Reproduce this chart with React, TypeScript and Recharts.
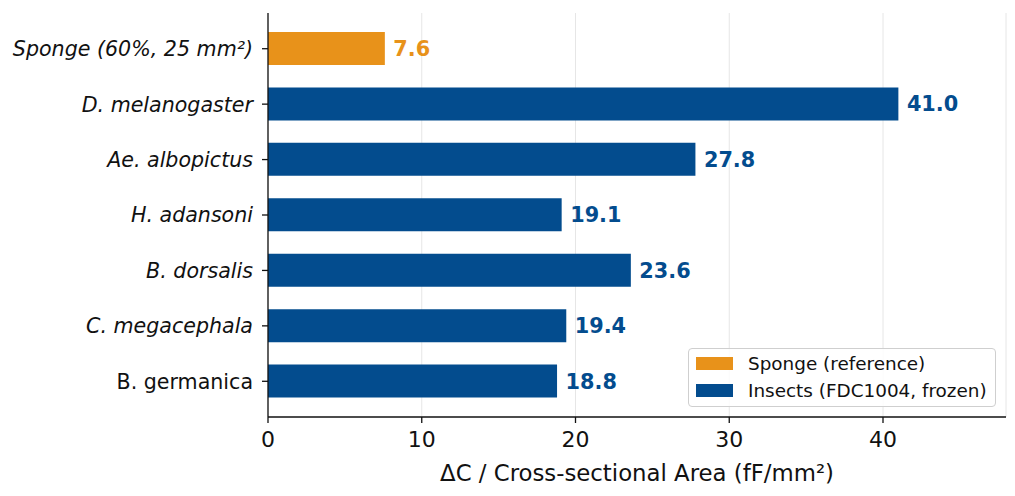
import React from 'react';
import { BarChart, Bar, XAxis, YAxis, CartesianGrid, Cell, LabelList, Legend } from 'recharts';

const categories = [
  'Sponge (60%, 25 mm²)',
  'D. melanogaster',
  'Ae. albopictus',
  'H. adansoni',
  'B. dorsalis',
  'C. megacephala',
  'B. germanica',
];
const values = [7.6, 41.0, 27.8, 19.1, 23.6, 19.4, 18.8];
const groups = ['sponge', 'insect', 'insect', 'insect', 'insect', 'insect', 'insect'];
const italicFlags = [true, true, true, true, true, true, false];
const xTicks = [0, 10, 20, 30, 40];
const legendLabels = ['Sponge (reference)', 'Insects (FDC1004, frozen)'];
const legendGroups = ['sponge', 'insect'];

const COLORS: Record<string, string> = { sponge: '#E8921A', insect: '#034C8E' };
const FONT = '"DejaVu Sans", sans-serif';
const TEXT = '#111';

const data = categories.map((name, i) => ({ name, value: values[i], group: groups[i], italic: italicFlags[i] }));

const YTick = (props: any) => {
  const { x, y, payload } = props;
  const italic = italicFlags[categories.indexOf(payload.value)];
  return (
    <text x={x} y={y} dy="0.36em" textAnchor="end" fontFamily={FONT} fontSize={20.6}
      fontStyle={italic ? 'italic' : 'normal'} fill={TEXT}>
      {payload.value}
    </text>
  );
};

const ValueLabel = (props: any) => {
  const { x, y, width, height, index, value } = props;
  const color = COLORS[groups[index]];
  return (
    <text x={Number(x) + Number(width) + 8.5} y={Number(y) + Number(height) / 2} dy="0.36em"
      fontFamily={FONT} fontSize={20.8} fontWeight="bold" fill={color}>
      {Number(value).toFixed(1)}
    </text>
  );
};

const XLabel = (props: any) => {
  const { viewBox } = props;
  const cx = viewBox.x + viewBox.width / 2;
  return (
    <text x={cx} y={481} textAnchor="middle" fontFamily={FONT} fontSize={22.8} fill={TEXT}>
      ΔC / Cross-sectional Area (fF/mm²)
    </text>
  );
};

const LegendBox = () => (
  <div style={{
    width: 308, height: 59, boxSizing: 'border-box', border: '1.3px solid #cfcfcf', borderRadius: 4,
    background: 'rgba(255,255,255,0.85)', fontFamily: FONT, fontSize: 18.4, color: TEXT,
    paddingTop: 0.5, paddingLeft: 7,
  }}>
    {legendLabels.map((l, i) => (
      <div key={l} style={{ display: 'flex', alignItems: 'center', height: 27 }}>
        <span style={{ display: 'inline-block', width: 37, height: 13, background: COLORS[legendGroups[i]], marginRight: 15 }} />
        <span style={{ whiteSpace: 'nowrap' }}>{l}</span>
      </div>
    ))}
  </div>
);

export default function App() {
  return (
    <div style={{ position: 'absolute', left: 0, top: 0, width: 1015, height: 496, background: '#fff' }}>
      <BarChart width={1015} height={496} data={data} layout="vertical"
        margin={{ top: 13, right: 9, bottom: 0, left: 0 }}>
        <CartesianGrid horizontal={false} vertical={true} stroke="#e6e6e6" strokeWidth={1} />
        <XAxis type="number" dataKey="value" domain={[0, 48]} ticks={xTicks} allowDataOverflow
          height={79} tickSize={6} tickMargin={8}
          stroke="#111" strokeWidth={1.3}
          tick={{ fontFamily: FONT, fontSize: 22, fill: TEXT }}
          tickLine={{ stroke: '#111', strokeWidth: 1.3 }}
          label={<XLabel />} />
        <YAxis type="category" dataKey="name" width={268} tickSize={6} tickMargin={9}
          stroke="#111" strokeWidth={1.3} padding={{ top: 8, bottom: 8 }}
          tick={<YTick />} tickLine={{ stroke: '#111', strokeWidth: 1.3 }} interval={0} />
        <Legend layout="horizontal" verticalAlign="middle" align="center" content={<LegendBox />}
          wrapperStyle={{ position: 'absolute', left: 688, top: 348, width: 308, height: 59 }} />
        <Bar dataKey="value" barSize={33} isAnimationActive={false}>
          {data.map((d, i) => (
            <Cell key={i} fill={COLORS[d.group]} />
          ))}
          <LabelList dataKey="value" content={<ValueLabel />} />
        </Bar>
      </BarChart>
    </div>
  );
}
